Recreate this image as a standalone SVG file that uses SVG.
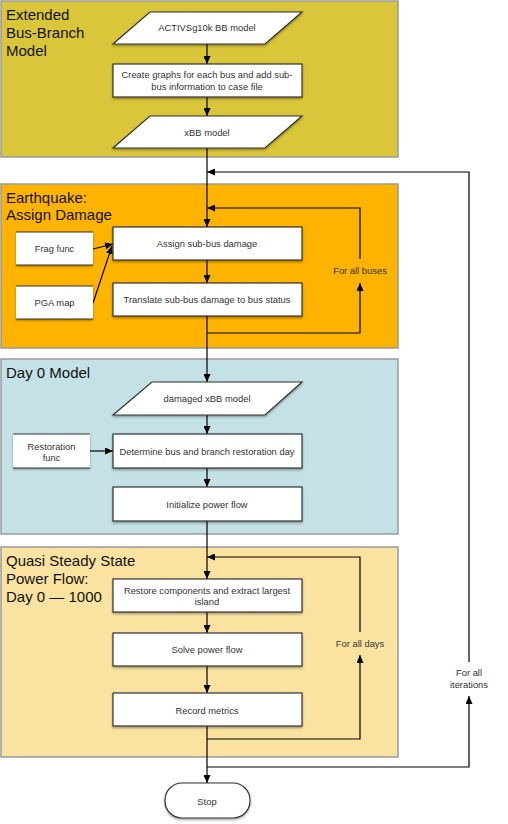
<svg xmlns="http://www.w3.org/2000/svg" width="508" height="824" viewBox="0 0 508 824">
<defs>
<marker id="ah" markerWidth="8" markerHeight="7" refX="8" refY="3.5" orient="auto" markerUnits="userSpaceOnUse"><path d="M0,0 L8,3.5 L0,7 z" fill="#000"/></marker>
<filter id="sh" x="-10%" y="-20%" width="130%" height="160%"><feDropShadow dx="0" dy="1.5" stdDeviation="1" flood-color="#000" flood-opacity="0.35"/></filter>
</defs>
<style>
.sec{stroke:#9a9a9a;stroke-width:1.5}
.ttl{font-family:"Liberation Sans",Arial,sans-serif;font-size:15px;fill:#111}
.box{fill:#fff;stroke:#333;stroke-width:1.2;filter:url(#sh)}
.t{font-family:"Liberation Sans",Arial,sans-serif;font-size:9.4px;fill:#333;text-anchor:middle}
.c{fill:none;stroke:#000;stroke-width:1.2}
.ln{stroke:#333;stroke-width:1.2}
</style>
<rect width="508" height="824" fill="#fff"/>
<g id="sec1"><rect class="sec" x="1" y="1" width="397" height="156" fill="#D9C63A"/>
<text class="ttl" x="6" y="20">Extended</text><text class="ttl" x="6" y="38">Bus-Branch</text><text class="ttl" x="6" y="56">Model</text></g>
<g id="sec2"><rect class="sec" x="1" y="184" width="397" height="164" fill="#FDB300"/>
<text class="ttl" x="6" y="203">Earthquake:</text><text class="ttl" x="6" y="220">Assign Damage</text></g>
<g id="sec3"><rect class="sec" x="1" y="359" width="397" height="175" fill="#C4E2E5"/>
<text class="ttl" x="6" y="378">Day 0 Model</text></g>
<g id="sec4"><rect class="sec" x="1" y="547" width="397" height="210" fill="#FAE3A0"/>
<text class="ttl" x="6" y="566">Quasi Steady State</text><text class="ttl" x="6" y="584">Power Flow:</text><text class="ttl" x="6" y="602">Day 0 — 1000</text></g>

<g id="connectors">
<path class="c" d="M207,44 V64" marker-end="url(#ah)"/>
<path class="c" d="M207,97 V116" marker-end="url(#ah)"/>
<path class="c" d="M207,148 V227" marker-end="url(#ah)"/>
<path class="c" d="M207,260 V283" marker-end="url(#ah)"/>
<path class="c" d="M207,316 V382" marker-end="url(#ah)"/>
<path class="c" d="M207,333 H360 V283" marker-end="url(#ah)"/>
<path class="c" d="M360,259 V208 H207" marker-end="url(#ah)"/>
<path class="c" d="M93,249 L113,244" marker-end="url(#ah)"/>
<path class="c" d="M93,303 L112,246" marker-end="url(#ah)"/>
<path class="c" d="M207,415 V434" marker-end="url(#ah)"/>
<path class="c" d="M90,451 H113" marker-end="url(#ah)"/>
<path class="c" d="M207,468 V487" marker-end="url(#ah)"/>
<path class="c" d="M207,521 V579" marker-end="url(#ah)"/>
<path class="c" d="M207,612 V633" marker-end="url(#ah)"/>
<path class="c" d="M207,666 V693" marker-end="url(#ah)"/>
<path class="c" d="M207,726 V783" marker-end="url(#ah)"/>
<path class="c" d="M207,739 H360 V655" marker-end="url(#ah)"/>
<path class="c" d="M360,632 V557 H207" marker-end="url(#ah)"/>
<path class="c" d="M207,767 H469 V696" marker-end="url(#ah)"/>
<path class="c" d="M469,662 V172 H207" marker-end="url(#ah)"/>
<text class="t" x="360" y="274">For all buses</text>
<text class="t" x="360" y="647">For all days</text>
<text class="t" x="469" y="676">For all</text>
<text class="t" x="469" y="688">iterations</text>
</g>

<g id="n-activsg"><path class="box" d="M150,12 H302 L265,44 H113 z"/><text class="t" x="207" y="31">ACTIVSg10k BB model</text></g>
<g id="n-create"><rect class="box" x="113" y="64" width="189" height="33"/><text class="t" x="207" y="78">Create graphs for each bus and add sub-</text><text class="t" x="207" y="90">bus information to case file</text></g>
<g id="n-xbb"><path class="box" d="M150,116 H302 L265,148 H113 z"/><text class="t" x="207" y="136">xBB model</text></g>
<g id="n-assign"><rect class="box" x="113" y="227" width="189" height="33"/><text class="t" x="207" y="247">Assign sub-bus damage</text></g>
<g id="n-translate"><rect class="box" x="113" y="283" width="189" height="33"/><text class="t" x="207" y="303">Translate sub-bus damage to bus status</text></g>
<g id="n-frag"><rect x="16" y="232" width="77" height="33" fill="#fff" filter="url(#sh)"/><line class="ln" x1="16" y1="232" x2="93" y2="232"/><line class="ln" x1="16" y1="265" x2="93" y2="265"/><text class="t" x="54.5" y="252">Frag func</text></g>
<g id="n-pga"><rect x="16" y="286" width="77" height="33" fill="#fff" filter="url(#sh)"/><line class="ln" x1="16" y1="286" x2="93" y2="286"/><line class="ln" x1="16" y1="319" x2="93" y2="319"/><text class="t" x="54.5" y="306">PGA map</text></g>
<g id="n-damaged"><path class="box" d="M152,382 H302 L265,415 H113 z"/><text class="t" x="207" y="402">damaged xBB model</text></g>
<g id="n-restfunc"><rect x="13" y="434" width="77" height="34" fill="#fff" filter="url(#sh)"/><line class="ln" x1="13" y1="434" x2="90" y2="434"/><line class="ln" x1="13" y1="468" x2="90" y2="468"/><text class="t" x="51.5" y="450">Restoration</text><text class="t" x="51.5" y="461">func</text></g>
<g id="n-determine"><rect class="box" x="113" y="434" width="189" height="34"/><text class="t" x="207" y="455">Determine bus and branch restoration day</text></g>
<g id="n-init"><rect class="box" x="113" y="487" width="189" height="34"/><text class="t" x="207" y="508">Initialize power flow</text></g>
<g id="n-restore"><rect class="box" x="113" y="579" width="189" height="33"/><text class="t" x="207" y="594">Restore components and extract largest</text><text class="t" x="207" y="605">island</text></g>
<g id="n-solve"><rect class="box" x="113" y="633" width="189" height="33"/><text class="t" x="207" y="653">Solve power flow</text></g>
<g id="n-record"><rect class="box" x="113" y="693" width="189" height="33"/><text class="t" x="207" y="714">Record metrics</text></g>
<g id="n-stop"><rect class="box" x="165" y="783" width="85" height="35" rx="17" ry="17"/><text class="t" x="207" y="805">Stop</text></g>
</svg>
